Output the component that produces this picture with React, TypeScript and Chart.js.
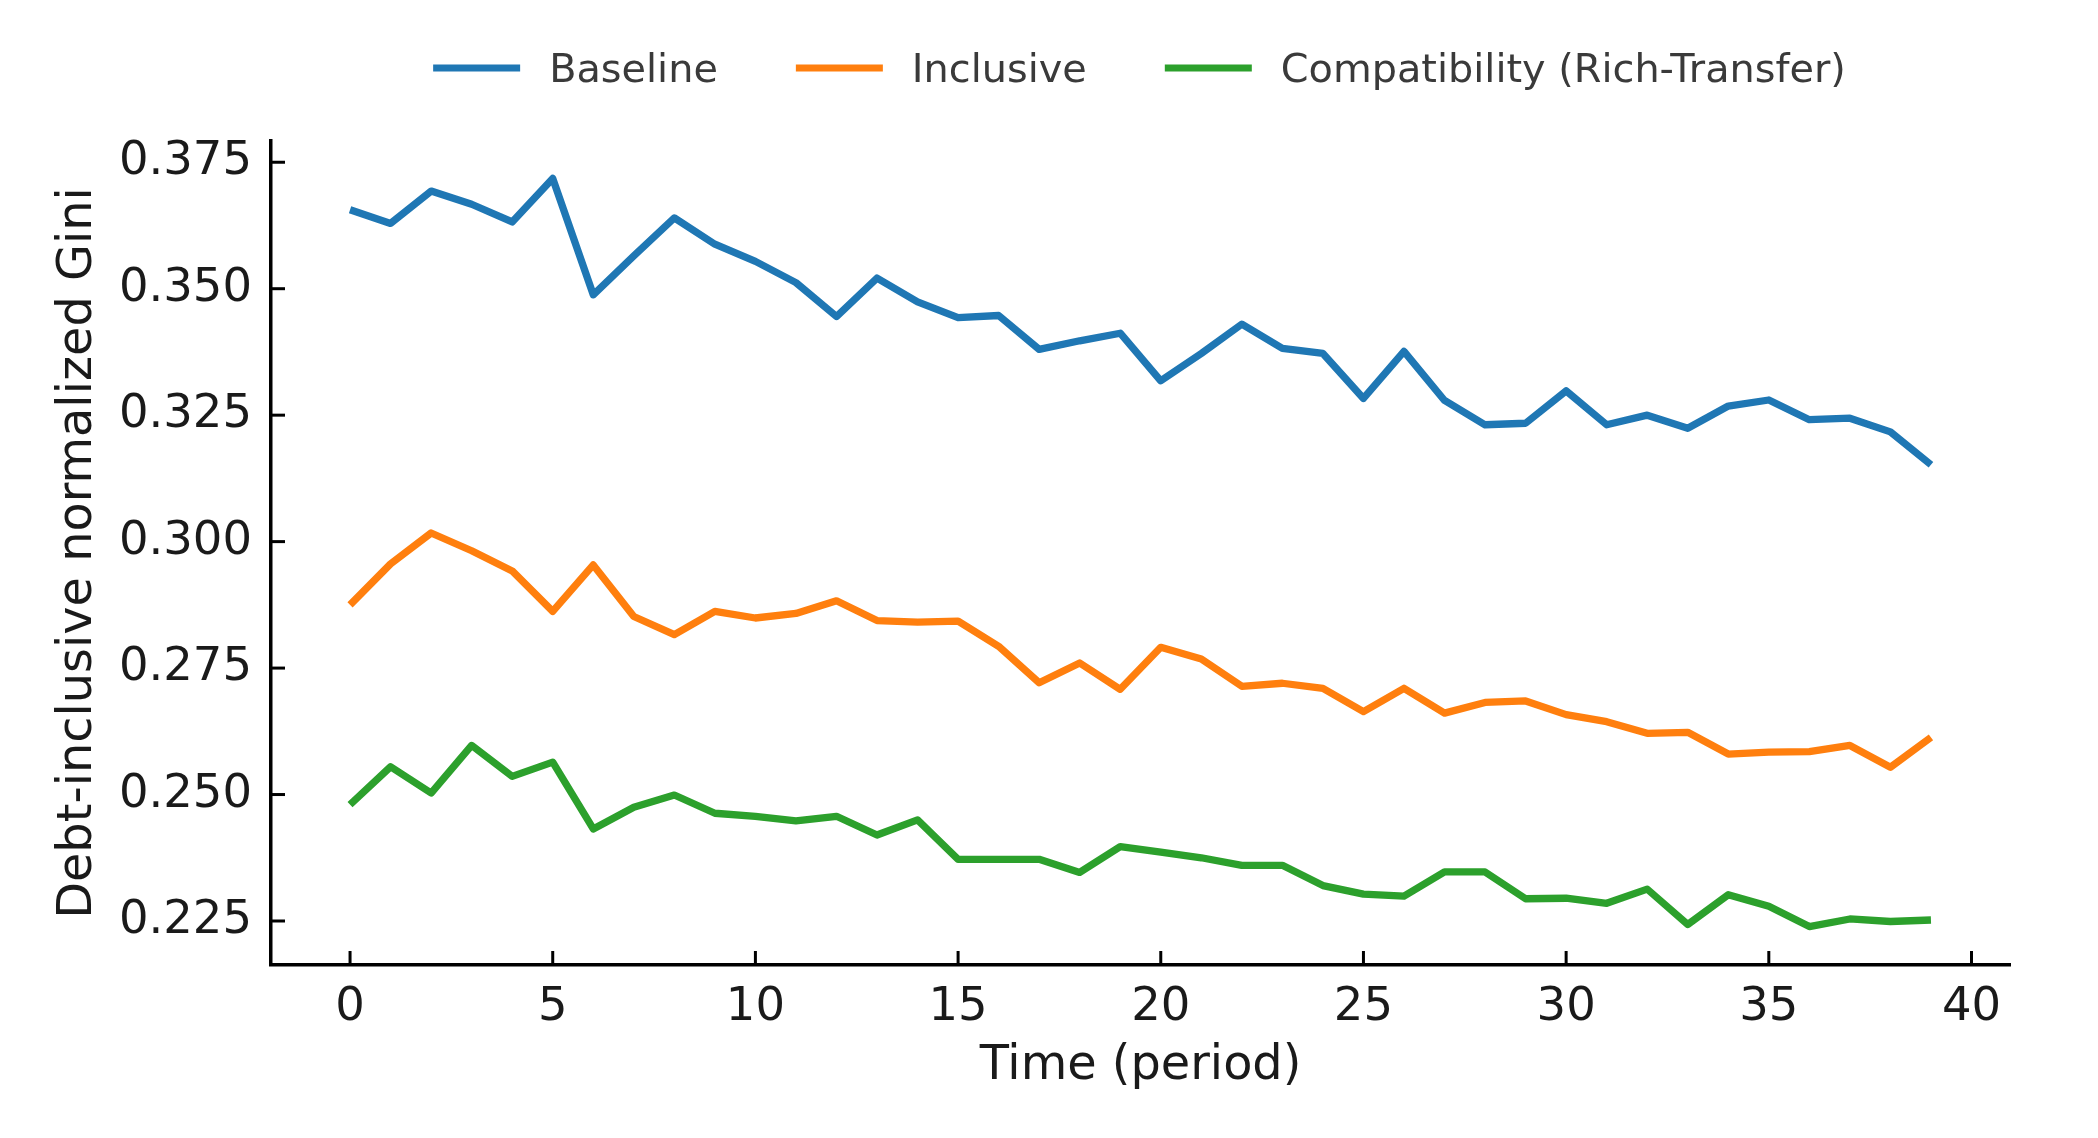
import React, { useEffect, useRef } from 'react';
import { Chart, registerables } from 'chart.js';

Chart.register(...registerables);

// ---- data ----
const periods = [0, 1, 2, 3, 4, 5, 6, 7, 8, 9, 10, 11, 12, 13, 14, 15, 16, 17, 18, 19, 20, 21, 22, 23, 24, 25, 26, 27, 28, 29, 30, 31, 32, 33, 34, 35, 36, 37, 38, 39];

const baseline = [0.3656, 0.3629, 0.3693, 0.3667, 0.3632, 0.3718, 0.3488, 0.3565, 0.364, 0.3588, 0.3554, 0.3512, 0.3445, 0.3521, 0.3474, 0.3443, 0.3447, 0.338, 0.3397, 0.3412, 0.3318, 0.3372, 0.343, 0.3382, 0.3372, 0.3283, 0.3376, 0.3279, 0.3231, 0.3234, 0.3298, 0.3231, 0.325, 0.3224, 0.3268, 0.328, 0.3241, 0.3244, 0.3217, 0.3152];

const inclusive = [0.2875, 0.2956, 0.3017, 0.2982, 0.2942, 0.2862, 0.2954, 0.2852, 0.2816, 0.2862, 0.2849, 0.2858, 0.2883, 0.2844, 0.2841, 0.2843, 0.2793, 0.2721, 0.276, 0.2708, 0.2791, 0.2768, 0.2714, 0.272, 0.271, 0.2664, 0.271, 0.2661, 0.2682, 0.2685, 0.2658, 0.2644, 0.2621, 0.2623, 0.258, 0.2584, 0.2585, 0.2597, 0.2554, 0.2613];

const compatibility = [0.248, 0.2555, 0.2503, 0.2597, 0.2536, 0.2564, 0.2432, 0.2475, 0.2499, 0.2463, 0.2457, 0.2448, 0.2457, 0.242, 0.245, 0.2372, 0.2372, 0.2372, 0.2346, 0.2397, 0.2386, 0.2375, 0.236, 0.236, 0.232, 0.2303, 0.2299, 0.2347, 0.2347, 0.2294, 0.2295, 0.2285, 0.2313, 0.2243, 0.2302, 0.2279, 0.2239, 0.2254, 0.2249, 0.2252];

const seriesLabels = ['Baseline', 'Inclusive', 'Compatibility (Rich-Transfer)'];
const seriesColors = ['#1f77b4', '#ff7f0e', '#2ca02c'];

const xTickValues = [0, 5, 10, 15, 20, 25, 30, 35, 40];
const yTickValues = [0.225, 0.25, 0.275, 0.3, 0.325, 0.35, 0.375];

const xTitle = 'Time (period)';
const yTitle = 'Debt-inclusive normalized Gini';

// ---- styles ----
const FONT = '"DejaVu Sans", "Liberation Sans", sans-serif';
const TEXT = '#1a1a1a';
const LEGEND_TEXT = '#3a3a3a';
const LINE_W = 7.3;

const inwardTicks = {
  id: 'inwardTicks',
  afterDatasetsDraw(chart: any) {
    const { ctx, chartArea: a, scales } = chart;
    ctx.save();
    ctx.strokeStyle = '#000';
    ctx.lineWidth = 3;
    ctx.lineCap = 'butt';
    for (const t of scales.x.ticks) {
      const px = scales.x.getPixelForValue(t.value);
      ctx.beginPath();
      ctx.moveTo(px, a.bottom);
      ctx.lineTo(px, a.bottom - 14);
      ctx.stroke();
    }
    for (const t of scales.y.ticks) {
      const py = scales.y.getPixelForValue(t.value);
      ctx.beginPath();
      ctx.moveTo(a.left, py);
      ctx.lineTo(a.left + 14, py);
      ctx.stroke();
    }
    ctx.restore();
  },
};

const topLegend = {
  id: 'topLegend',
  afterDraw(chart: any) {
    const { ctx, chartArea: a } = chart;
    const swatch = 87;
    const gap = 29;
    const itemGap = 78;
    const baselineY = 81.5;
    const lineY = 68;
    ctx.save();
    ctx.font = `39.8px ${FONT}`;
    const items = chart.data.datasets.map((ds: any) => ({
      label: ds.label as string,
      color: ds.borderColor as string,
      w: ctx.measureText(ds.label).width,
    }));
    const total = items.reduce((s: number, it: any) => s + swatch + gap + it.w, 0) + itemGap * (items.length - 1);
    let x = (a.left + a.right) / 2 - 1 - total / 2;
    for (const it of items) {
      ctx.strokeStyle = it.color;
      ctx.lineWidth = 7;
      ctx.lineCap = 'butt';
      ctx.beginPath();
      ctx.moveTo(x, lineY);
      ctx.lineTo(x + swatch, lineY);
      ctx.stroke();
      ctx.fillStyle = LEGEND_TEXT;
      ctx.textAlign = 'left';
      ctx.textBaseline = 'alphabetic';
      ctx.fillText(it.label, x + swatch + gap, baselineY);
      x += swatch + gap + it.w + itemGap;
    }
    ctx.restore();
  },
};

export default function App() {
  const canvasRef = useRef<HTMLCanvasElement | null>(null);

  useEffect(() => {
    if (!canvasRef.current) return;
    const seriesValues = [baseline, inclusive, compatibility];
    const chart = new Chart(canvasRef.current, {
      type: 'line',
      data: {
        datasets: seriesValues.map((vals, k) => ({
          label: seriesLabels[k],
          data: vals.map((v, i) => ({ x: periods[i], y: v })),
          borderColor: seriesColors[k],
          backgroundColor: seriesColors[k],
          borderWidth: LINE_W,
          pointRadius: 0,
          pointHoverRadius: 0,
          fill: false,
          tension: 0,
          borderJoinStyle: 'round',
          borderCapStyle: 'butt',
        })),
      },
      options: {
        animation: false,
        responsive: true,
        maintainAspectRatio: false,
        layout: { padding: { top: 141, right: 88, bottom: 0, left: 0 } },
        plugins: {
          legend: { display: false },
          tooltip: { enabled: false },
        },
        scales: {
          x: {
            type: 'linear',
            min: -1.95,
            max: 40.95,
            grid: { display: false },
            border: { display: true, color: '#000', width: 3.5 },
            afterBuildTicks: (s: any) => {
              s.ticks = xTickValues.map((v) => ({ value: v }));
            },
            afterFit: (s: any) => {
              s.height = 173;
            },
            ticks: {
              autoSkip: false,
              maxRotation: 0,
              padding: 12,
              color: TEXT,
              font: { family: FONT, size: 46.5, lineHeight: 1 },
              callback: (v: any) => String(v),
            },
            title: {
              display: true,
              text: xTitle,
              color: TEXT,
              font: { family: FONT, size: 47.8, lineHeight: 1 },
              padding: { top: 0, bottom: 48 },
            },
          },
          y: {
            type: 'linear',
            min: 0.2163,
            max: 0.3792,
            grid: { display: false },
            border: { display: true, color: '#000', width: 3.5 },
            afterBuildTicks: (s: any) => {
              s.ticks = yTickValues.map((v) => ({ value: v }));
            },
            afterFit: (s: any) => {
              s.width = 271;
            },
            ticks: {
              autoSkip: false,
              padding: 11,
              color: TEXT,
              font: { family: FONT, size: 46.5, lineHeight: 1 },
              callback: (v: any) => Number(v).toFixed(3),
            },
            title: {
              display: true,
              text: yTitle,
              color: TEXT,
              font: { family: FONT, size: 47.8, lineHeight: 1 },
              padding: { top: 55, bottom: 0 },
            },
          },
        },
      } as any,
      plugins: [inwardTicks, topLegend],
    });
    return () => chart.destroy();
  }, []);

  return (
    <div style={{ position: 'fixed', left: 0, top: 0, width: 2098, height: 1138, background: '#fff' }}>
      <canvas ref={canvasRef} />
    </div>
  );
}
